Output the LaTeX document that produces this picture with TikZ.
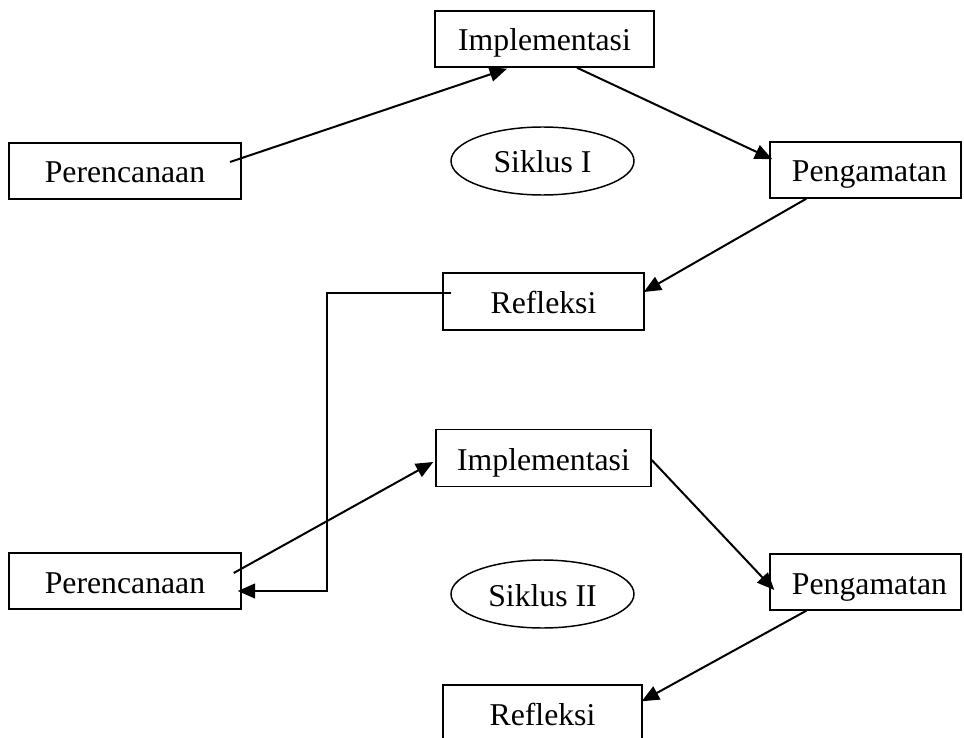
\documentclass[tikz,border=0pt]{standalone}
\usepackage{fontspec}
\setmainfont{Liberation Serif}
\usetikzlibrary{calc,shapes.geometric,arrows.meta}
\begin{document}
\begin{tikzpicture}[x=0.75pt,y=-0.75pt,
  lbl/.style={font=\fontsize{23.8}{28}\selectfont,text height=18pt,text depth=0pt,inner sep=0pt},
  box/.style={lbl,draw,line width=1.1pt,rectangle},
  cyc/.style={lbl,draw,line width=1.1pt,ellipse},
  conn/.style={line width=1.5pt,-{Triangle[length=13pt,width=11pt]}}]
\useasboundingbox (0,0) rectangle (964,738);
\node[box,minimum width=219*0.75pt,minimum height=56*0.75pt] (imp1) at (544.5,39) {Implementasi};
\node[box,minimum width=232*0.75pt,minimum height=56*0.75pt] (per1) at (125,171) {Perencanaan};
\node[cyc,minimum width=183*0.75pt,minimum height=68*0.75pt] (sik1) at (542.5,161) {Siklus I};
\node[box,minimum width=191*0.75pt,minimum height=56*0.75pt,text width=180*0.75pt,align=center] (pen1) at (865.5,170) {\hspace*{6pt}Pengamatan};
\node[box,minimum width=201*0.75pt,minimum height=57*0.75pt] (ref1) at (543.5,301.5) {Refleksi};
\node[box,minimum width=215*0.75pt,minimum height=57*0.75pt] (imp2) at (543.5,458) {Implementasi};
\node[box,minimum width=232*0.75pt,minimum height=56*0.75pt] (per2) at (125,581) {Perencanaan};
\node[cyc,minimum width=183*0.75pt,minimum height=68*0.75pt] (sik2) at (542.5,594) {Siklus II};
\node[box,minimum width=191*0.75pt,minimum height=56*0.75pt,text width=180*0.75pt,align=center] (pen2) at (865.5,582) {\hspace*{6pt}Pengamatan};
\node[box,minimum width=199*0.75pt,minimum height=56*0.75pt] (ref2) at (542.5,713) {Refleksi};
\draw[conn] ($(per1.center)+(105,-9)$) -- ($(imp1.south)+(-37.5,1)$);
\draw[conn] ($(imp1.south)+(32.5,0)$) -- ($(pen1.north west)+(3,18)$);
\draw[conn] ($(pen1.south west)+(37,0)$) -- ($(ref1.east)+(-1,-9.5)$);
\draw[conn] ($(ref1.west)+(9,-8.5)$) -| ($(per2.east)+(85,10)$) -- ($(per2.east)+(-4,10)$);
\draw[conn] ($(per2.east)+(-8,-8)$) -- ($(imp2.west)+(-2,4)$);
\draw[conn] ($(imp2.east)+(0,2)$) -- ($(pen2.west)+(5,8)$);
\draw[conn] ($(pen2.south west)+(37,0)$) -- ($(ref2.north east)+(-1,17)$);
\end{tikzpicture}
\end{document}
